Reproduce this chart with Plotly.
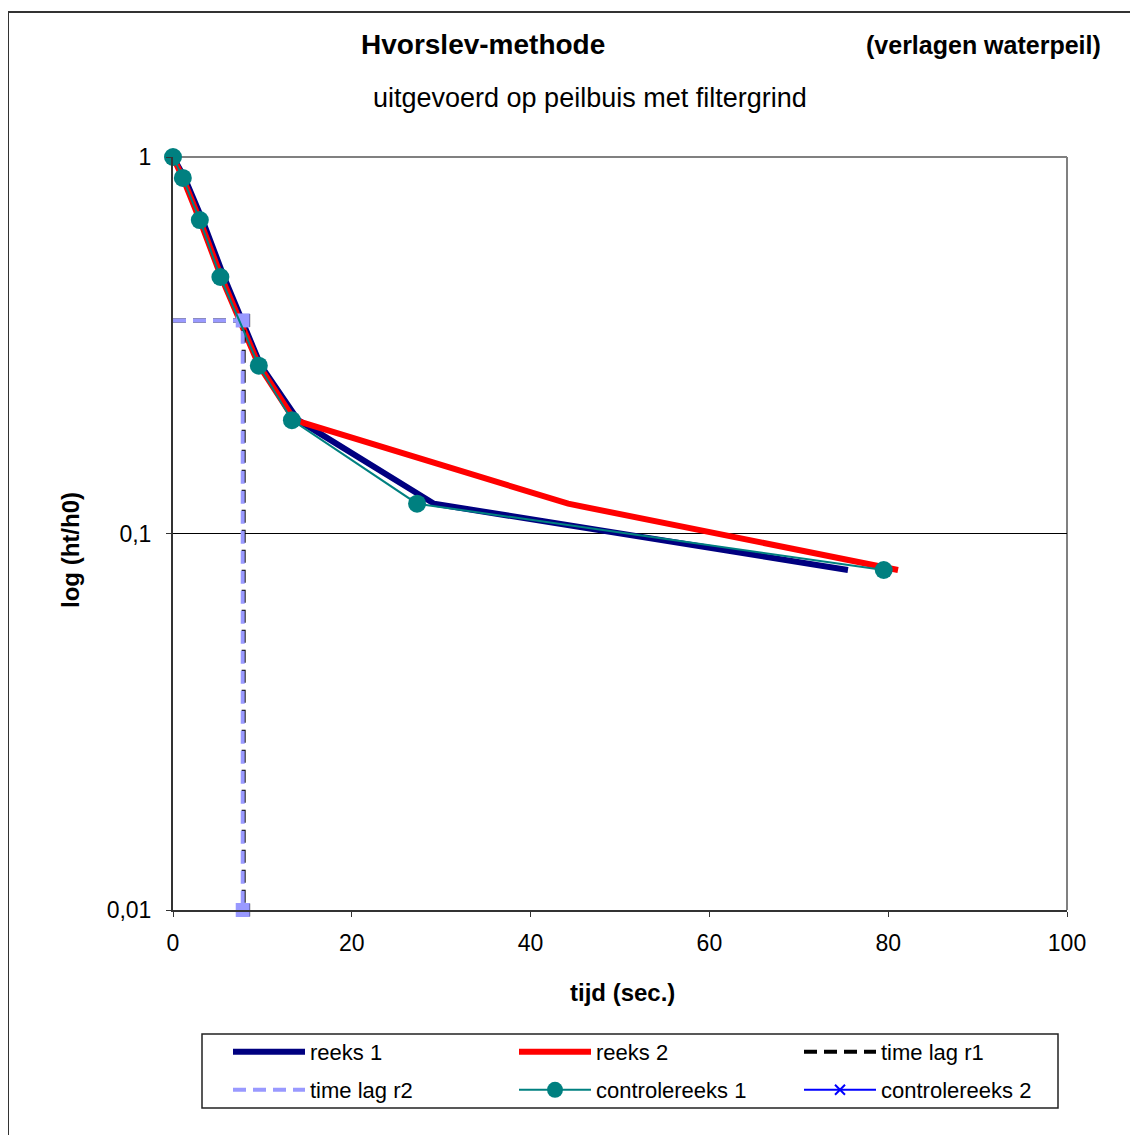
import plotly.graph_objects as go

# ---- data ----
y_vals = [1.0, 0.88, 0.68, 0.48, 0.28, 0.2, 0.12, 0.08]
reeks1_x = [0, 1.3, 3.3, 5.7, 9.8, 14.0, 29.2, 75.5]
reeks2_x = [0, 1.1, 3.0, 5.4, 9.6, 13.6, 44.2, 81.1]
controle1_x = [0, 1.1, 3.0, 5.3, 9.6, 13.3, 27.3, 79.5]
controle1_y = [1.0, 0.88, 0.68, 0.48, 0.279, 0.2, 0.12, 0.08]
lag_r1_x = [0, 7.9, 7.9]
lag_r2_x = [0, 7.8, 7.8]
lag_y = [0.368, 0.368, 0.01]
x_ticks = [0, 20, 40, 60, 80, 100]
y_ticks = [0.01, 0.1, 1]
y_ticklabels = ["0,01", "0,1", "1"]

W, H = 1130, 1127
L, R, T, B = 165, 71, 149, 225
pw, ph = W - L - R, H - T - B
OFF = 8  # page body margin


def fx(xp):
    return (xp - OFF - L) / pw


def fy(yp):
    return (H - B - (yp - OFF)) / ph


FONT = "Liberation Sans, Arial, sans-serif"
LEG_FONT = 22
DASH = "13px,7px"

fig = go.Figure()
fig.add_trace(go.Scatter(x=reeks1_x, y=y_vals, name="reeks 1", mode="lines",
                         line=dict(color="#000080", width=6), legend="legend"))
fig.add_trace(go.Scatter(x=reeks2_x, y=y_vals, name="reeks 2", mode="lines",
                         line=dict(color="#FF0000", width=6), legend="legend2"))
fig.add_trace(go.Scatter(x=lag_r1_x, y=lag_y, name="time lag r1", mode="lines",
                         line=dict(color="#000000", width=4, dash=DASH), legend="legend3"))
fig.add_trace(go.Scatter(x=lag_r1_x[1:], y=lag_y[1:], mode="markers", showlegend=False,
                         marker=dict(symbol="square", size=13, color="#000000"),
                         cliponaxis=False, hoverinfo="skip"))
fig.add_trace(go.Scatter(x=lag_r2_x, y=lag_y, name="time lag r2", mode="lines",
                         line=dict(color="#9999FF", width=4, dash=DASH), legend="legend4"))
fig.add_trace(go.Scatter(x=lag_r2_x[1:], y=lag_y[1:], mode="markers", showlegend=False,
                         marker=dict(symbol="square", size=14, color="#9999FF"),
                         cliponaxis=False, hoverinfo="skip"))
fig.add_trace(go.Scatter(x=controle1_x, y=controle1_y, name="controlereeks 1", mode="lines+markers",
                         line=dict(color="#008080", width=2),
                         marker=dict(symbol="circle", size=18, color="#008080"),
                         cliponaxis=False, legend="legend5"))
fig.add_trace(go.Scatter(x=[None], y=[None], name="controlereeks 2", mode="lines+markers",
                         line=dict(color="#0000FF", width=2),
                         marker=dict(symbol="x-thin", size=10, color="#0000FF",
                                     line=dict(color="#0000FF", width=2)),
                         legend="legend6"))


def leg(xtext, yc):
    return dict(x=fx(xtext - 83), y=fy(yc), xanchor="left", yanchor="middle",
                bgcolor="rgba(0,0,0,0)", borderwidth=0, font=dict(size=LEG_FONT),
                itemwidth=72, orientation="h")


fig.update_layout(
    width=W, height=H,
    margin=dict(l=L, r=R, t=T, b=B),
    paper_bgcolor="white", plot_bgcolor="white",
    font=dict(family=FONT, size=17, color="black"),
    showlegend=True,
    legend=leg(311, 1052), legend2=leg(597, 1052), legend3=leg(882, 1052),
    legend4=leg(311, 1090), legend5=leg(597, 1090), legend6=leg(882, 1090),
    xaxis=dict(range=[0, 100], tickvals=x_ticks, showgrid=False, zeroline=False,
               showline=True, linecolor="#333333", linewidth=2, ticks="outside",
               ticklen=5, tickcolor="#333333", tickfont=dict(size=23),
               ticklabelstandoff=6),
    yaxis=dict(type="log", range=[-2, 0], tickvals=y_ticks, ticktext=y_ticklabels,
               showgrid=True, gridcolor="#000000", gridwidth=1, zeroline=False,
               showline=True, linecolor="#333333", linewidth=2, ticks="outside",
               ticklen=5, tickcolor="#333333", tickfont=dict(size=23),
               ticklabelstandoff=10),
)

# gray top/right plot border
fig.add_shape(type="line", xref="paper", yref="paper", x0=0, x1=1, y0=1, y1=1,
              line=dict(color="#808080", width=2), layer="between")
fig.add_shape(type="line", xref="paper", yref="paper", x0=1, x1=1, y0=0, y1=1,
              line=dict(color="#808080", width=2), layer="between")
# outer chart border
fig.add_shape(type="rect", xref="paper", yref="paper",
              x0=fx(8), x1=fx(1160), y0=fy(1160), y1=fy(12),
              line=dict(color="#333333", width=2), fillcolor="rgba(0,0,0,0)", layer="below")
# legend box
fig.add_shape(type="rect", xref="paper", yref="paper",
              x0=fx(202), x1=fx(1058), y0=fy(1108), y1=fy(1034),
              line=dict(color="#222222", width=1.5), fillcolor="rgba(0,0,0,0)", layer="below")

fig.add_annotation(text="<b>Hvorslev-methode</b>", xref="paper", yref="paper",
                   x=fx(483), y=fy(45), showarrow=False, font=dict(size=28),
                   xanchor="center", yanchor="middle")
fig.add_annotation(text="<b>(verlagen waterpeil)</b>", xref="paper", yref="paper",
                   x=fx(1103), y=fy(45), showarrow=False, font=dict(size=25),
                   xanchor="right", yanchor="middle")
fig.add_annotation(text="uitgevoerd op peilbuis met filtergrind", xref="paper", yref="paper",
                   x=fx(590), y=fy(98), showarrow=False, font=dict(size=27),
                   xanchor="center", yanchor="middle")
fig.add_annotation(text="<b>tijd (sec.)</b>", xref="paper", yref="paper",
                   x=fx(622), y=fy(993), showarrow=False, font=dict(size=24),
                   xanchor="center", yanchor="middle")
fig.add_annotation(text="<b>log (ht/h0)</b>", xref="paper", yref="paper",
                   x=fx(70), y=fy(550), showarrow=False, font=dict(size=24),
                   xanchor="center", yanchor="middle", textangle=-90)

fig.write_html("out.html")
